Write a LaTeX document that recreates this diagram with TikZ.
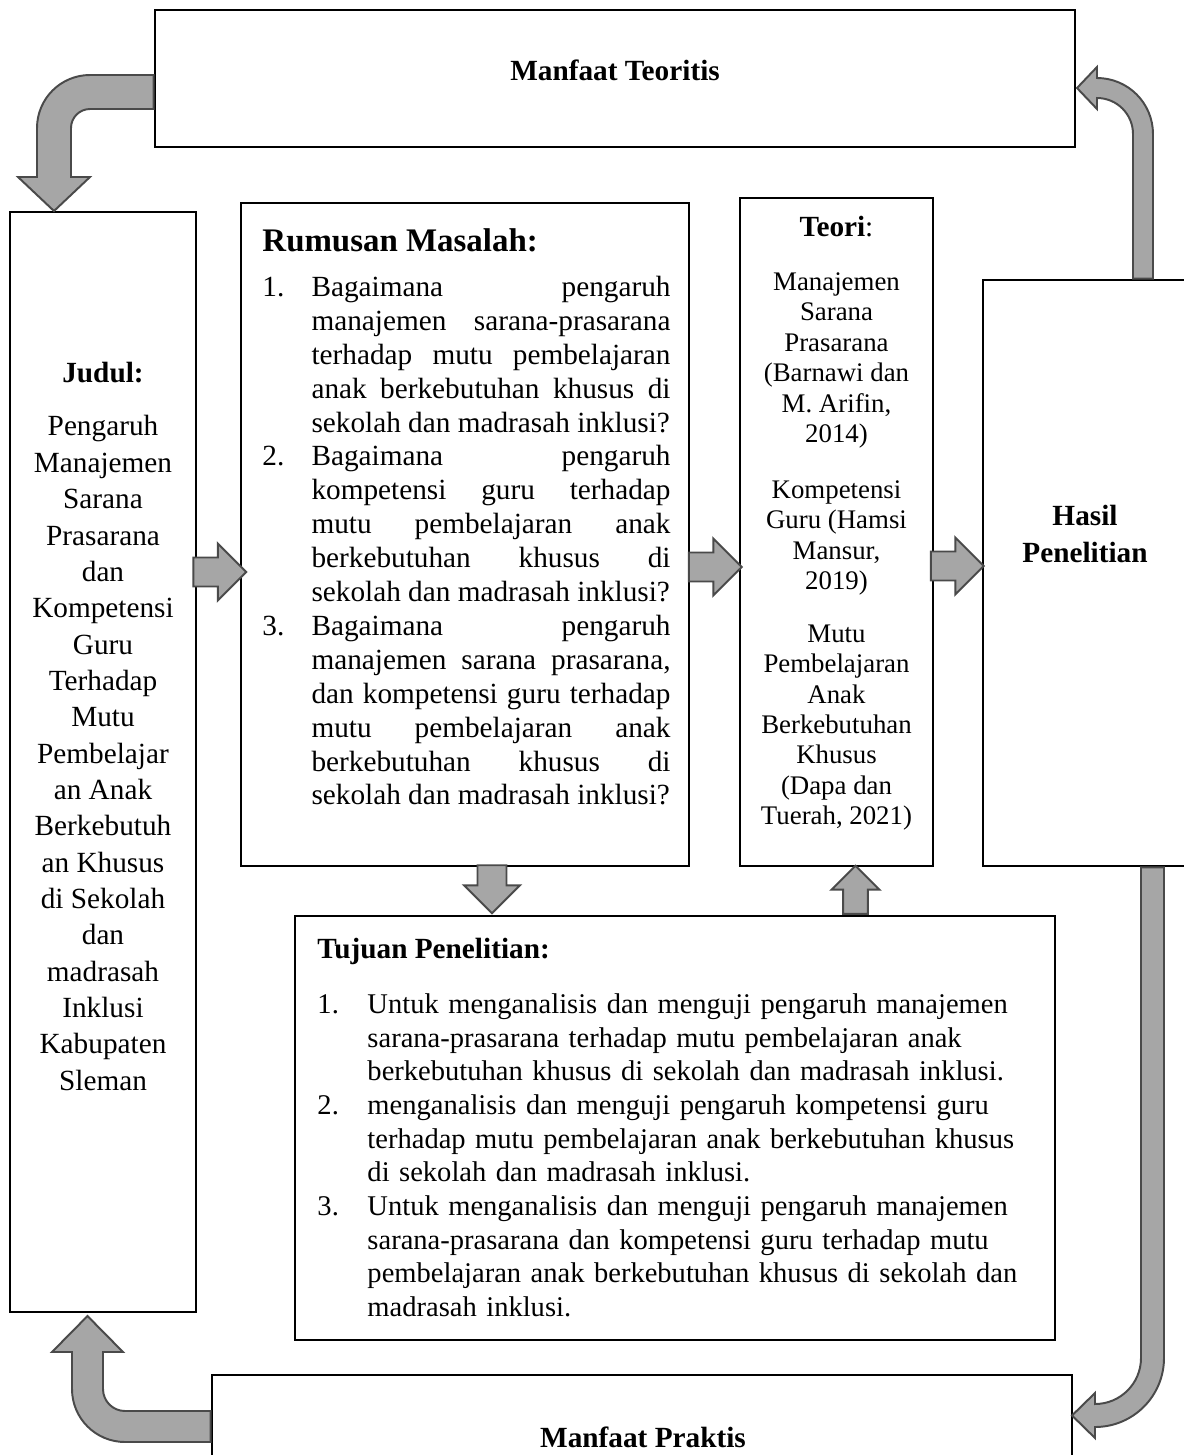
\documentclass[tikz,border=0pt]{standalone}
\usepackage{fontspec}
\setmainfont{Liberation Serif}
\usetikzlibrary{shapes.arrows,calc}
\definecolor{arrowfill}{HTML}{A6A6A6}
\definecolor{arrowedge}{HTML}{4A4A4A}
\newlength{\itemhang}
\newcommand{\listitem}[2]{\par\hangindent=\itemhang\hangafter=1\noindent
  \hbox to\itemhang{#1\hfil}#2\par}
\hbadness=10000
\tikzset{
  panel/.style 2 args={draw=black,line width=1.1pt,fill=white,inner sep=0pt,
    minimum width=#1*0.41pt,minimum height=#2*0.41pt},
  body/.style={font=\fontsize{12pt}{14.9pt}\selectfont,inner sep=0pt},
  smallbody/.style={font=\fontsize{11pt}{12.45pt}\selectfont,inner sep=0pt},
  blockarrow/.style={single arrow,draw=arrowedge,fill=arrowfill,line width=0.8pt,
    inner sep=0pt,text height=11.1pt,text depth=0pt,minimum height=21.7pt,
    single arrow head extend=5.7pt},
  bentarrow/.style={draw=arrowedge,fill=arrowfill,line width=0.8pt}
}
\begin{document}
\begin{tikzpicture}[x=0.41pt,y=-0.41pt]
  \useasboundingbox (0,0) rectangle (1184,1455);
  \clip (0,0) rectangle (1184,1455);
  % boxes
  \node[panel={920}{137}] (teoritis) at (615,78.5) {};
  \node[panel={186}{1100}] (judul) at (103,762) {};
  \node[panel={448}{663}] (rumusan) at (465,534.5) {};
  \node[panel={193}{668}] (teori) at (836.5,532) {};
  \node[panel={207}{586}] (hasil) at (1086.5,573) {};
  \node[panel={760}{424}] (tujuan) at (675,1128) {};
  \node[panel={860}{100}] (praktis) at (642,1425) {};
  % texts
  \node[body] (teoritisText) at (615,70) {\textbf{Manfaat Teoritis}};
  \node[body,align=center,anchor=north] (judulText) at (103,362) {%
    \textbf{Judul:}\\[6.9pt]
    Pengaruh\\Manajemen\\Sarana\\Prasarana\\dan\\Kompetensi\\Guru\\Terhadap\\
    Mutu\\Pembelajar\\an Anak\\Berkebutuh\\an Khusus\\di Sekolah\\dan\\
    madrasah\\Inklusi\\Kabupaten\\Sleman};
  \node[body,font=\fontsize{13.5pt}{16pt}\selectfont,anchor=north west]
    (rumusanTitle) at (262,228) {\textbf{Rumusan Masalah:}};
  \node[body,font=\fontsize{12pt}{13.9pt}\selectfont,anchor=north west,
    text width=167.3pt,align=justify] (rumusanList)
    at (262,262) {\setlength{\itemhang}{20.1pt}%
    \listitem{1.}{Bagaimana pengaruh\linebreak manajemen sarana-prasarana\linebreak
      terhadap mutu pembelajaran\linebreak anak berkebutuhan khusus di\linebreak
      sekolah dan madrasah inklusi?}%
    \listitem{2.}{Bagaimana pengaruh\linebreak kompetensi guru terhadap\linebreak
      mutu pembelajaran anak\linebreak berkebutuhan khusus di\linebreak
      sekolah dan madrasah inklusi?}%
    \listitem{3.}{Bagaimana pengaruh\linebreak manajemen sarana prasarana,\linebreak
      dan kompetensi guru terhadap\linebreak mutu pembelajaran anak\linebreak
      berkebutuhan khusus di\linebreak sekolah dan madrasah inklusi?}};
  \node[smallbody,align=center,anchor=north] (teoriText) at (836.5,216) {%
    {\fontsize{12pt}{14.9pt}\selectfont\textbf{Teori}:}\\[9.6pt]
    Manajemen\\Sarana\\Prasarana\\(Barnawi dan\\M. Arifin,\\2014)\\[10.5pt]
    Kompetensi\\Guru (Hamsi\\Mansur,\\2019)\\[9.3pt]
    Mutu\\Pembelajaran\\Anak\\Berkebutuhan\\Khusus\\(Dapa dan\\Tuerah, 2021)};
  \node[body,align=center,anchor=north] (hasilText) at (1085,505)
    {\textbf{Hasil}\\\textbf{Penelitian}};
  \node[body,anchor=north west] (tujuanTitle) at (317,938) {\textbf{Tujuan Penelitian:}};
  \node[body,font=\fontsize{11.7pt}{13.8pt}\selectfont,anchor=north west,
    text width=296pt,align=left] (tujuanList) at (317,979.5) {\setlength{\itemhang}{20.5pt}%
    \listitem{1.}{Untuk menganalisis dan menguji pengaruh manajemen\newline
      sarana-prasarana terhadap mutu pembelajaran anak\newline
      berkebutuhan khusus di sekolah dan madrasah inklusi.}%
    \listitem{2.}{menganalisis dan menguji pengaruh kompetensi guru\newline
      terhadap mutu pembelajaran anak berkebutuhan khusus\newline
      di sekolah dan madrasah inklusi.}%
    \listitem{3.}{Untuk menganalisis dan menguji pengaruh manajemen\newline
      sarana-prasarana dan kompetensi guru terhadap mutu\newline
      pembelajaran anak berkebutuhan khusus di sekolah dan\newline
      madrasah inklusi.}};
  \node[body] (praktisText) at (643,1437) {\textbf{Manfaat Praktis}};
  % straight block arrows
  \node[blockarrow] (judulToRumusan) at (212.5,572) {};
  \node[blockarrow] (rumusanToTeori) at (708,567) {};
  \node[blockarrow] (teoriToHasil) at (950,566) {};
  \node[blockarrow,rotate=-90,minimum height=19.7pt,
    single arrow head extend=5.5pt] (rumusanToTujuan) at (492,882) {};
  \node[blockarrow,rotate=90,minimum height=19.7pt,text height=9.4pt,
    single arrow head extend=4.7pt] (tujuanToTeori) at (855.5,896) {};
  % bent arrows
  \draw[bentarrow] (teoritis.west |- 0,75) -- (90,75)
    arc[start angle=-90,end angle=-180,radius=53] -- (37,177) -- (18,177)
    -- (54,211) -- (90,177) -- (71,177) -- (71,128)
    arc[start angle=180,end angle=270,radius=19] -- (teoritis.west |- 0,109) -- cycle;
  \draw[bentarrow] (1133,0 |- hasil.north) -- (1133,134)
    arc[start angle=0,end angle=-90,radius=36] -- (1097,109) -- (1077,88)
    -- (1097,67) -- (1097,78) arc[start angle=-90,end angle=0,radius=56]
    -- (1153,0 |- hasil.north) -- cycle;
  \draw[bentarrow] (1141,0 |- hasil.south) -- (1141,1358)
    arc[start angle=0,end angle=90,radius=46] -- (1095,1393) -- (1072,1415.5)
    -- (1095,1438) -- (1095,1427) arc[start angle=90,end angle=0,radius=69]
    -- (1164,0 |- hasil.south) -- cycle;
  \draw[bentarrow] (praktis.west |- 0,1411) -- (125,1411)
    arc[start angle=90,end angle=180,radius=22] -- (103,1352) -- (123,1352)
    -- (87.5,1316) -- (52,1352) -- (72,1352) -- (72,1389)
    arc[start angle=180,end angle=90,radius=53] -- (praktis.west |- 0,1442) -- cycle;
\end{tikzpicture}
\end{document}
